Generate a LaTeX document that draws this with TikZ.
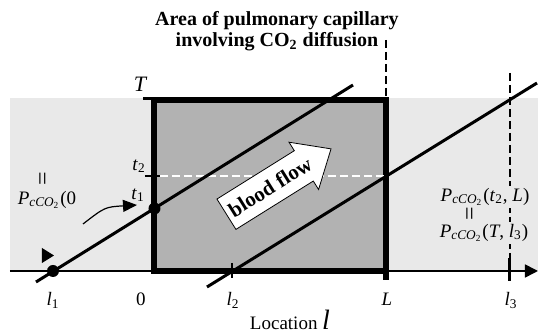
\documentclass[tikz,border=0pt]{standalone}
\usepackage{fontspec}
\setmainfont{Liberation Serif}
\usetikzlibrary{
    arrows.meta,
    positioning,
    shapes.arrows,
}
\definecolor{bandgray}{gray}{0.915}
\definecolor{boxgray}{gray}{0.70}
\newcommand{\pco}{\textit{P}\textsubscript{\textit{cCO}\textsubscript{2}}}

\begin{document}
\begin{tikzpicture}[
        x=0.5pt, y=-0.5pt,
        lbl/.style={font=\fontsize{9.5}{11}\selectfont, inner sep=1pt},
        eqsign/.style={font=\fontsize{12}{12}\selectfont, inner sep=0pt, rotate=90},
        flowline/.style={line width=1.5pt},
        marker/.style={circle, fill=black, inner sep=0pt, minimum size=6pt},
        vdash/.style={line width=1pt, dash pattern=on 4pt off 2pt},
        flowarrow/.style={single arrow, draw, fill=white, thin,
            font=\bfseries\fontsize{10.5}{12}\selectfont,
            inner xsep=2pt, inner ysep=5pt, minimum height=61.5pt,
            single arrow head extend=5pt, single arrow tip angle=82},
    ]
        \useasboundingbox (0,0) rectangle (538,336);

        % band and capillary box
        \fill[bandgray] (10,98) rectangle (538,271);
        \coordinate (axstart) at (10,271);
        \coordinate (axend) at (538,271);
        \draw[line width=0.8pt, -{Triangle[length=6.5pt, width=6.5pt]}] (axstart) -- (axend);
        \draw[line width=3pt, fill=boxgray] (154.5,100) rectangle (386.5,271);

        % ticks
        \coordinate (Ttick) at (143,99);
        \coordinate (Tend) at (154.5,99);
        \draw[line width=1.5pt] (Ttick) -- (Tend);
        \coordinate (t2tick) at (145,176);
        \coordinate (t2in) at (160,176);
        \coordinate (t2out) at (384,176);
        \draw[line width=1pt] (t2tick) -- (t2in);
        \draw[white, vdash] (t2in) -- (t2out);
        \coordinate (l2top) at (232,263);
        \coordinate (l2bot) at (232,278);
        \draw[line width=1pt] (l2top) -- (l2bot);
        \coordinate (Ltop) at (386.5,271);
        \coordinate (Lbot) at (386.5,280);
        \draw[line width=3pt] (Ltop) -- (Lbot);
        \coordinate (l3top) at (510,258);
        \coordinate (l3bot) at (510,281);
        \draw[line width=1.5pt] (l3top) -- (l3bot);

        % dashed verticals
        \coordinate (Lup) at (386.5,40);
        \coordinate (Ldown) at (386.5,97);
        \draw[vdash] (Lup) -- (Ldown);
        \coordinate (l3up) at (510,73);
        \draw[vdash] (l3up) -- (l3top);

        % blood paths
        \coordinate (in1) at (36,282);
        \coordinate (out1) at (353,85);
        \draw[flowline] (in1) -- (out1);
        \coordinate (in2) at (207,287);
        \coordinate (out2) at (537,83);
        \draw[flowline] (in2) -- (out2);
        \node[marker] (entry) at (53,271) {};
        \node[marker] (wall) at (154.5,208.5) {};
        \fill (42,248) -- (42,263) -- (54,255.5) -- cycle;

        \node[flowarrow, rotate=32] (flow) at (270,187) {blood flow};

        % labels
        \node[font=\bfseries\fontsize{10}{9}\selectfont, align=center] (title) at (277,31)
            {Area of pulmonary capillary\\involving CO\textsubscript{2} diffusion};
        \node[lbl, font=\fontsize{11}{13}\selectfont\itshape] (Tlab) at (140,84) {T};
        \node[lbl] (t2lab) at (139,166) {\textit{t}\textsubscript{2}};
        \node[lbl] (t1lab) at (138,195) {\textit{t}\textsubscript{1}};
        \node[eqsign] (eqL) at (45,179) {=};
        \node[lbl] (pleft) at (47,200) {\pco(0};
        \coordinate (cstart) at (83,224);
        \coordinate (ctip) at (137,205);
        \draw[line width=0.6pt, -{Triangle[length=7pt, width=6pt]}] (cstart) .. controls (105,207) .. (ctip);

        \node[lbl, fill=bandgray] (pright1) at (485,197) {\pco(\textit{t}\textsubscript{2}, \textit{L})};
        \node[eqsign] (eqR) at (472,214) {=};
        \node[lbl, fill=bandgray] (pright2) at (484,233) {\pco(\textit{T}, \textit{l}\textsubscript{3})};

        \node[lbl, anchor=base] (l1lab) at (53,306) {\textit{l}\textsubscript{1}};
        \node[lbl, anchor=base] (zerolab) at (141,306) {0};
        \node[lbl, anchor=base] (l2lab) at (233,306) {\textit{l}\textsubscript{2}};
        \node[lbl, anchor=base] (Llab) at (387,306) {\textit{L}};
        \node[lbl, anchor=base] (l3lab) at (511,306) {\textit{l}\textsubscript{3}};
        \node[lbl, anchor=base] (xlab) at (290,330) {Location {\fontsize{14}{14}\selectfont\itshape l}};
    \end{tikzpicture}
\end{document}
